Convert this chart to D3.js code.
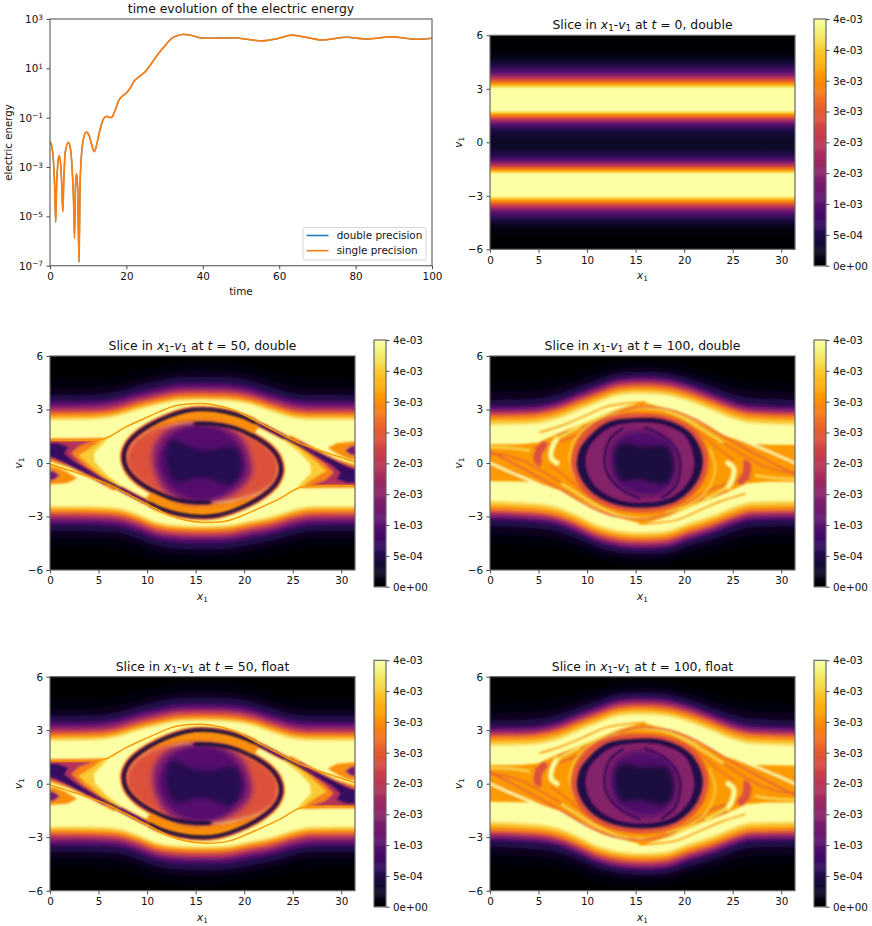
<!DOCTYPE html>
<html lang="en">
<head>
<meta charset="UTF-8">
<title>Electric energy and phase space slices</title>
<script src="https://d3js.org/d3.v7.min.js"></script>
<style>
body { margin: 0; background: #fff; }
text { font-family: "DejaVu Sans", sans-serif; fill: #111; }
.domain { stroke: none; }
.tick line { stroke: #333; stroke-width: 0.9; }
.tick text { font-size: 10.4px; font-family: "DejaVu Sans", sans-serif; fill: #111; }
</style>
</head>
<body>
<svg id="chart" width="872" height="926"></svg>
<script>
// ---- time evolution
const timeValues = [0,.5,1,1.25,1.48,1.7,2,2.4,2.8,3.1,3.35,3.6,4,4.8,5.4,5.9,6.2,6.42,6.65,6.95,7.25,7.6,7.85,8.2,8.7,9.5,10.3,11,11.6,12.2,13,14,14.8,16,17,18,19,20,21,22,23.6,25.3,27,28.8,30.6,31.9,33.2,34.9,36.7,39.3,41.9,48,51.5,55.5,59.4,63.3,66.4,71.2,77.7,83,89.5,96,100];
const energyDouble = [1.07e-2,6.6e-3,1e-3,1.26e-4,5.8e-6,1.26e-4,1.1e-3,2.9e-3,1.26e-3,1.6e-4,1.55e-5,2.5e-4,4e-3,1e-2,5e-3,4e-4,3.2e-5,1.3e-6,1.26e-4,5.4e-4,1.26e-4,1.4e-7,1.26e-4,2.5e-3,1.26e-2,2.6e-2,1.8e-2,7.1e-3,4.2e-3,7.9e-3,2.8e-2,8.9e-2,.112,.1,.19,.5,.76,1,1.6,3,4.9,8.5,20,48,102,166,209,240,224,174,166,174,151,129,158,224,190,141,182,155,190,151,166];
// the single precision line sits exactly on the double one in the picture
const energySingle = [1.07e-2,6.6e-3,1e-3,1.26e-4,5.8e-6,1.26e-4,1.1e-3,2.9e-3,1.26e-3,1.6e-4,1.55e-5,2.5e-4,4e-3,1e-2,5e-3,4e-4,3.2e-5,1.3e-6,1.26e-4,5.4e-4,1.26e-4,1.4e-7,1.26e-4,2.5e-3,1.26e-2,2.6e-2,1.8e-2,7.1e-3,4.2e-3,7.9e-3,2.8e-2,8.9e-2,.112,.1,.19,.5,.76,1,1.6,3,4.9,8.5,20,48,102,166,209,240,224,174,166,174,151,129,158,224,190,141,182,155,190,151,166];
const energyTicks = [1e-7,1e-5,1e-3,1e-1,1e1,1e3];
const energyTickExp = ["\u22127","\u22125","\u22123","\u22121","1","3"];
const timeTicks = [0,20,40,60,80,100];
const legendLabels = ["double precision","single precision"];

// ---- colour bar, values in units of 1e-3
const colorTicks = [0,.5,1,1.5,2,2.5,3,3.5,4];
const colorTickLabels = ["0e+00","5e-04","1e-03","2e-03","2e-03","3e-03","3e-03","4e-03","4e-03"];
const x1Ticks = [0,5,10,15,20,25,30];
const v1Ticks = [-6,-3,0,3,6];

// ---- t=0 slice, does not depend on x1
const v1Stops0 = [-6,-5.4,-5,-4.7,-4.3,-3.95,-3.75,-3.6,-3.45,-3.3,-3.15,-3,-1.8,-1.65,-1.55,-1.4,-1.3,-1.15,-1,-.7,-.35,0,.35,.7,1,1.15,1.3,1.4,1.55,1.65,1.8,3,3.15,3.3,3.45,3.6,3.75,3.95,4.3,4.7,5,5.4,6];
const fStops0 = [0,.02,.08,.2,.5,1,1.5,2,2.5,3,3.5,4,4,3.5,3,2.5,2,1.5,1,.5,.32,.28,.32,.5,1,1.5,2,2.5,3,3.5,4,4,3.5,3,2.5,2,1.5,1,.5,.2,.08,.02,0];

// ---- contours of the outer bands, v1 at each x1 column, one row per level
const bandX = [-1,4,7,9,11,13.5,15.7,18,20.5,23,25,27,32.4];
const bandLevels = [.05,.2,.5,1,1.5,2,2.5,3,3.5,4];
const upper50 = [
  [4.75,4.77,4.94,5.23,5.46,5.67,5.7,5.67,5.51,5.13,4.85,4.76,4.75],
  [4.2,4.22,4.4,4.7,4.95,5.17,5.2,5.17,5,4.6,4.3,4.21,4.2],
  [3.8,3.82,4.01,4.32,4.58,4.81,4.84,4.81,4.63,4.22,3.9,3.81,3.8],
  [3.44,3.46,3.65,3.96,4.21,4.44,4.47,4.44,4.26,3.85,3.54,3.45,3.44],
  [3.22,3.24,3.43,3.74,3.99,4.22,4.25,4.22,4.04,3.63,3.32,3.23,3.22],
  [3.03,3.05,3.24,3.57,3.83,4.07,4.1,4.07,3.89,3.46,3.14,3.04,3.03],
  [2.88,2.9,3.09,3.42,3.68,3.92,3.95,3.92,3.74,3.31,2.99,2.89,2.88],
  [2.75,2.77,2.96,3.28,3.54,3.77,3.8,3.77,3.59,3.17,2.86,2.76,2.75],
  [2.58,2.6,2.79,3.12,3.38,3.62,3.65,3.62,3.44,3.01,2.69,2.59,2.58],
  [2.41,2.43,2.63,2.97,3.25,3.5,3.53,3.5,3.31,2.86,2.52,2.42,2.41]
];
const lower50 = [
  [-4.75,-4.76,-4.85,-5.13,-5.51,-5.67,-5.7,-5.67,-5.46,-5.23,-4.94,-4.77,-4.75],
  [-4.2,-4.21,-4.3,-4.6,-5,-5.17,-5.2,-5.17,-4.95,-4.7,-4.4,-4.22,-4.2],
  [-3.8,-3.81,-3.9,-4.22,-4.63,-4.81,-4.84,-4.81,-4.58,-4.32,-4.01,-3.82,-3.8],
  [-3.44,-3.45,-3.54,-3.85,-4.26,-4.44,-4.47,-4.44,-4.21,-3.96,-3.65,-3.46,-3.44],
  [-3.22,-3.23,-3.32,-3.63,-4.04,-4.22,-4.25,-4.22,-3.99,-3.74,-3.43,-3.24,-3.22],
  [-3.03,-3.04,-3.14,-3.46,-3.89,-4.07,-4.1,-4.07,-3.83,-3.57,-3.24,-3.05,-3.03],
  [-2.88,-2.89,-2.99,-3.31,-3.74,-3.92,-3.95,-3.92,-3.68,-3.42,-3.09,-2.9,-2.88],
  [-2.75,-2.76,-2.86,-3.17,-3.59,-3.77,-3.8,-3.77,-3.54,-3.28,-2.96,-2.77,-2.75],
  [-2.58,-2.59,-2.69,-3.01,-3.44,-3.62,-3.65,-3.62,-3.38,-3.12,-2.79,-2.6,-2.58],
  [-2.41,-2.42,-2.52,-2.86,-3.31,-3.5,-3.53,-3.5,-3.25,-2.97,-2.63,-2.43,-2.41]
];
const upper100 = [
  [4.56,4.6,4.8,5.11,5.41,5.73,5.78,5.72,5.48,5.11,4.8,4.63,4.56],
  [4,4.04,4.28,4.63,4.98,5.34,5.4,5.33,5.05,4.63,4.28,4.08,4],
  [3.53,3.58,3.85,4.25,4.64,5.06,5.12,5.04,4.72,4.25,3.85,3.63,3.53],
  [3.16,3.21,3.5,3.92,4.34,4.77,4.84,4.76,4.42,3.92,3.5,3.26,3.16],
  [3,3.05,3.34,3.77,4.19,4.63,4.7,4.62,4.28,3.77,3.34,3.1,3],
  [2.84,2.89,3.18,3.61,4.04,4.49,4.56,4.47,4.13,3.61,3.18,2.94,2.84],
  [2.72,2.77,3.06,3.49,3.91,4.35,4.42,4.34,4,3.49,3.06,2.82,2.72],
  [2.6,2.65,2.94,3.36,3.78,4.21,4.28,4.2,3.86,3.36,2.94,2.7,2.6],
  [2.38,2.43,2.72,3.15,3.58,4.03,4.1,4.01,3.67,3.15,2.72,2.48,2.38],
  [2.13,2.18,2.48,2.93,3.37,3.83,3.9,3.81,3.46,2.93,2.48,2.24,2.13]
];
const lower100 = [
  [-4.56,-4.63,-4.8,-5.11,-5.48,-5.72,-5.78,-5.73,-5.41,-5.11,-4.8,-4.6,-4.56],
  [-4,-4.08,-4.28,-4.63,-5.05,-5.33,-5.4,-5.34,-4.98,-4.63,-4.28,-4.04,-4],
  [-3.53,-3.63,-3.85,-4.25,-4.72,-5.04,-5.12,-5.06,-4.64,-4.25,-3.85,-3.58,-3.53],
  [-3.16,-3.26,-3.5,-3.92,-4.42,-4.76,-4.84,-4.77,-4.34,-3.92,-3.5,-3.21,-3.16],
  [-3,-3.1,-3.34,-3.77,-4.28,-4.62,-4.7,-4.63,-4.19,-3.77,-3.34,-3.05,-3],
  [-2.84,-2.94,-3.18,-3.61,-4.13,-4.47,-4.56,-4.49,-4.04,-3.61,-3.18,-2.89,-2.84],
  [-2.72,-2.82,-3.06,-3.49,-4,-4.34,-4.42,-4.35,-3.91,-3.49,-3.06,-2.77,-2.72],
  [-2.6,-2.7,-2.94,-3.36,-3.86,-4.2,-4.28,-4.21,-3.78,-3.36,-2.94,-2.65,-2.6],
  [-2.38,-2.48,-2.72,-3.15,-3.67,-4.01,-4.1,-4.03,-3.58,-3.15,-2.72,-2.43,-2.38],
  [-2.13,-2.24,-2.48,-2.93,-3.46,-3.81,-3.9,-3.83,-3.37,-2.93,-2.48,-2.18,-2.13]
];

// ---- t=50 inner structure as [x1, v1] contours and ridge lines
const pocketLeft50 = [[-1,-.15],[.5,-.2],[1.6,-.45],[2.8,-.85],[1.8,-1.12],[0,-1.2],[-1,-1.2]];
const pocketLeftCore50 = [[-1,-.4],[.4,-.45],[1,-.7],[.4,-.95],[-1,-1]];
const pocketRight50 = [[32.4,.15],[30.9,.2],[29.8,.45],[28.6,.85],[29.6,1.12],[31.4,1.2],[32.4,1.2]];
const pocketRightCore50 = [[32.4,.4],[31,.45],[30.4,.7],[31,.95],[32.4,1]];
const wedgeLeftD50 = [[-1,1.38],[3,1.38],[6,1.42],[5.4,1.05],[4.5,.55],[4.6,.05],[5.8,-.65],[7.4,-1.3],[7,-1.5],[4,-.8],[2,-.25],[-1,.2]];
const wedgeLeftA50 = [[-1,1.38],[3,1.38],[5.5,1.42],[4.6,1],[3.5,.62],[2.9,.45],[3.8,0],[5.2,-.65],[7,-1.35],[6.6,-1.55],[4,-.8],[2,-.25],[0,.12],[-1,.2]];
const wedgeLeftB50 = [[-1,1.25],[3,1.25],[4.5,1.25],[3,.95],[2.2,.55],[3,.1],[4.5,-.55],[6,-1.2],[5.5,-1.2],[3.5,-.55],[1.5,-.05],[0,.25],[-1,.3]];
const wedgeLeftC50 = [[-1,1.12],[.8,1.12],[1.9,.9],[1.5,.55],[2.4,.1],[4.2,-.6],[3.9,-.65],[2,-.12],[.5,.3],[-1,.4]];
const wedgeRightD50 = [[32.4,-1.38],[28.4,-1.38],[25.4,-1.42],[26,-1.05],[26.9,-.55],[26.8,-.05],[25.6,.65],[24,1.3],[24.4,1.5],[27.4,.8],[29.4,.25],[32.4,-.2]];
const wedgeRightA50 = [[32.4,-1.38],[28.4,-1.38],[25.9,-1.42],[26.8,-1],[27.9,-.62],[28.5,-.45],[27.6,0],[26.2,.65],[24.4,1.35],[24.8,1.55],[27.4,.8],[29.4,.25],[31.4,-.12],[32.4,-.2]];
const wedgeRightB50 = [[32.4,-1.25],[28.4,-1.25],[26.9,-1.25],[28.4,-.95],[29.2,-.55],[28.4,-.1],[26.9,.55],[25.4,1.2],[25.9,1.2],[27.9,.55],[29.9,.05],[31.4,-.25],[32.4,-.3]];
const wedgeRightC50 = [[32.4,-1.12],[30.6,-1.12],[29.5,-.9],[29.9,-.55],[29,-.1],[27.2,.6],[27.5,.65],[29.4,.12],[30.9,-.3],[32.4,-.4]];
const armATail50 = [[32.4,-.55],[31.2,-.5],[29.9,-.2],[27.8,.36],[25.75,1],[23.7,1.57],[22,2.05],[21,2.3]];
const armARing50 = [[21,2.3],[20,2.55],[18,2.87],[15.7,3],[14.1,2.92],[12.2,2.6],[10.1,2.05],[8.8,1.55],[8,1.05],[7.6,.4],[7.9,-.3],[8.9,-.95],[10.8,-1.6],[12.6,-2],[14.9,-2.2],[16.4,-2.2]];
const armBTail50 = [[-1,.55],[.2,.5],[1.5,.2],[3.5,-.36],[5.65,-1],[7.7,-1.57],[9.4,-2.05],[10.4,-2.3]];
const armBRing50 = [[10.4,-2.3],[11.4,-2.55],[13.4,-2.87],[15.7,-3],[17.3,-2.92],[19.2,-2.6],[21.3,-2.05],[22.6,-1.55],[23.4,-1.05],[23.8,-.4],[23.5,.3],[22.5,.95],[20.6,1.6],[18.8,2],[16.5,2.2],[15,2.2]];
const filamentA50 = [[-1,1.3],[3,1.27],[5.5,1.35],[6.2,1.5],[7.55,1.94],[9.6,2.47],[11.3,2.88],[13,3.22],[15.7,3.33],[17.5,3.2],[19,2.95],[20.5,2.55],[22.3,2.04],[25.75,1.1],[29.2,.45],[32.4,-.1]];
const filamentB50 = [[32.4,-1.3],[28.4,-1.27],[25.9,-1.35],[25.2,-1.5],[23.85,-1.94],[21.8,-2.47],[20.1,-2.88],[18.4,-3.22],[15.7,-3.33],[13.9,-3.2],[12.4,-2.95],[10.9,-2.55],[9.1,-2.04],[5.65,-1.1],[2.2,-.45],[-1,.1]];
const crescentTop50 = [[10,1.8],[12.2,2.6],[15.7,3],[18,2.87],[20,2.55],[21.5,2.15],[20.8,1.6],[18.8,2.05],[15.7,2.25],[13,2.2]];
const crescentBottom50 = [[21.4,-1.8],[19.2,-2.6],[15.7,-3],[13.4,-2.87],[11.4,-2.55],[9.9,-2.15],[10.6,-1.6],[12.6,-2.05],[15.7,-2.25],[18.4,-2.2]];
const eyeInner50 = [[7.8,.4],[8.2,1],[9.2,1.55],[10.8,2],[13,2.25],[15.7,2.3],[18.8,2],[20.6,1.6],[22.5,.95],[23.5,.3],[23.6,-.4],[23.3,-1.05],[22,-1.6],[20,-2],[18,-2.2],[15,-2.3],[12.6,-2],[10.8,-1.6],[8.9,-.95],[7.9,-.3]];
const centerA50 = [[10.6,.9],[11.8,1.8],[13.7,2.2],[15.7,2.3],[18.5,2],[20,1.3],[20.7,.4],[20.9,-.5],[20.2,-1.2],[18.5,-1.9],[15.7,-2.3],[13,-2.1],[11.5,-1.4],[10.6,-.3]];
const centerB50 = [[11.2,.5],[12.2,1.5],[13.8,2],[15.7,2.15],[17.7,1.9],[19.3,1.2],[20.1,.3],[20.2,-.5],[19.3,-1.2],[17.6,-1.9],[15.7,-2.15],[13.6,-1.9],[12,-1.2],[11.2,-.3]];
const centerC50 = [[11.9,.6],[12.5,1.35],[13.4,1.2],[14.8,.85],[16.5,.75],[18.2,.95],[19.4,.8],[19.8,-.1],[19.3,-1.05],[18.2,-1.3],[16.9,-1],[15.2,-.85],[13.4,-1.1],[12.6,-.95],[12,-.2]];

// ---- t=100 inner structure
const lens100 = [[-1,1.05],[3,1.05],[5,1.15],[6,1.4],[7.9,1.85],[10.3,2.4],[13,3],[15.7,3.42],[18.9,2.95],[22.3,2.04],[24,1.55],[25.5,1.3],[27,1.05],[32.4,1],[32.4,-1.05],[28.4,-1.05],[26.4,-1.15],[25.4,-1.4],[23.5,-1.85],[21.1,-2.4],[18.4,-3],[15.7,-3.42],[12.5,-2.95],[9.1,-2.04],[7.4,-1.55],[5.9,-1.3],[4.4,-1.05],[-1,-1]];
const tipTop100 = [[5.15,1.72],[7.55,2.13],[9.6,2.6],[12,3.16],[14,3.35],[16,3.42]];
const tipBottom100 = [[26.25,-1.72],[23.85,-2.13],[21.8,-2.6],[19.4,-3.16],[17.4,-3.35],[15.4,-3.42]];
const diagRight100 = [[25.7,1.35],[26.6,1.14],[29.4,.49],[31.4,0],[32.4,-.25]];
const diagLeft100 = [[-1,.25],[0,0],[2,-.49],[4.8,-1.14],[6,-1.45]];
const paleTop100 = [[7.5,1.6],[9.5,2.15],[11.5,2.6],[13.5,2.95],[15.7,3.1],[18,2.95],[20,2.5],[22,1.85],[24,1.15]];
const paleBottom100 = [[23.9,-1.6],[21.9,-2.15],[19.9,-2.6],[17.9,-2.95],[15.7,-3.1],[13.4,-2.95],[11.4,-2.5],[9.4,-1.85],[7.4,-1.15]];
const strandTop100 = [[6.9,1.57],[9.6,2.04],[13,2.65],[15.45,2.73],[18.9,2.41],[21.3,1.76],[23.7,.73],[25.1,.17]];
const strandBottom100 = [[24.5,-1.57],[21.8,-2.04],[18.4,-2.65],[15.4,-2.73],[12.5,-2.41],[10.1,-1.76],[7.7,-.73],[6.3,-.17]];
const redLower100 = [[-1,.9],[0,.64],[4.1,-.52],[7.2,-1.46],[10.3,-2.45],[13,-3],[16,-3.14],[18.9,-2.73],[22.3,-1.6],[24,-1.23],[26.8,-.86]];
const redUpper100 = [[32.4,-.9],[31.4,-.64],[27.3,.52],[24.2,1.46],[21.1,2.45],[18.4,3],[15.4,3.14],[12.5,2.73],[9.1,1.6],[7.4,1.23],[4.6,.86]];
const redPatchLeft100 = [[4.5,.1],[4.7,.8],[5.6,1.25],[5.9,1],[5.4,.5],[5.2,-.2]];
const redPatchRight100 = [[26.9,-.1],[26.7,-.8],[25.8,-1.25],[25.5,-1],[26,-.5],[26.2,.2]];
const tongueLeft100 = [[6.9,0],[6.3,.3],[6.5,1],[6.9,1.35]];
const tongueLeftTail100 = [[6.9,1.35],[7.9,1.66],[9.2,2]];
const tongueRight100 = [[24.5,0],[25.1,-.3],[24.9,-1],[24.5,-1.35]];
const tongueRightTail100 = [[24.5,-1.35],[23.5,-1.66],[22.2,-2]];
const ringPaleLeft100 = [[8.8,-.8],[8.2,.2],[8.5,1],[9.3,1.7],[11,2.35],[13.2,2.75]];
const ringPaleRight100 = [[22.6,.8],[23.2,-.2],[22.9,-1],[22.1,-1.7],[20.4,-2.35],[18.2,-2.75]];
const streakA100 = [[-1,.55],[1.5,.45],[3.5,.1],[5.5,-.5],[7.3,-1.1]];
const streakB100 = [[32.4,-.55],[29.9,-.45],[27.9,-.1],[25.9,.5],[24.1,1.1]];
const streakC100 = [[-1,.9],[2,.85],[4,.7]];
const streakD100 = [[32.4,-.9],[29.4,-.85],[27.4,-.7]];
const ringBase100 = [[8.4,-.3],[8.6,.75],[9.3,1.5],[11.6,2.5],[15.1,2.78],[18.5,2.6],[21.2,1.8],[22.5,.3],[21.9,-1.1],[19.6,-2.3],[16.1,-2.75],[12.4,-2.5],[9.8,-1.7]];
const ringDark100 = [[9,-.3],[9.2,.7],[9.9,1.3],[12,2.25],[15.1,2.52],[18.2,2.4],[20.7,1.65],[21.9,.3],[21.4,-.95],[19.3,-2.1],[16.1,-2.5],[12.7,-2.28],[10.2,-1.5]];
const ringInner100 = [[9.9,-.2],[10,.6],[10.7,1.25],[12.4,1.98],[15.2,2.27],[18,2.12],[20.1,1.5],[21,.2],[20.7,-.8],[18.9,-1.85],[16,-2.22],[13,-2.02],[10.8,-1.25]];
const innerArcLeft100 = [[13.7,1.94],[12.4,1.38],[11.84,.45],[12,-.49],[13.4,-1.42],[15.4,-1.98]];
const innerArcRight100 = [[17.7,-1.94],[19,-1.38],[19.56,-.45],[19.4,.49],[18,1.42],[16,1.98]];
const center100 = [[12.3,.2],[12.8,1.2],[14.5,1.75],[16.5,1.75],[18.6,1.2],[19.2,.2],[19,-1],[17.3,-1.75],[15,-1.75],[13,-1.1]];
const centerCore100 = [[12.8,.3],[13.2,1],[14,1.15],[15.5,.95],[17,1],[18.3,.9],[18.9,.2],[18.8,-.7],[18,-1.2],[16.5,-1.1],[15.2,-.95],[14,-1.05],[13.2,-.8]];

// layout, pixel boxes of the axes
const energyBox = {left: 50, right: 432, top: 19, bottom: 265.7};
const slices = [
  {left: 490, top: 35.3, bottom: 249.3, cbLeft: 814, cbTop: 19, cbBottom: 265.7, t: "0", kind: "double", draw: drawSlice0, titleY: 29},
  {left: 50, top: 356, bottom: 570, cbLeft: 374, cbTop: 340, cbBottom: 586.7, t: "50", kind: "double", draw: drawSlice50, titleY: 350},
  {left: 490, top: 356, bottom: 570, cbLeft: 814, cbTop: 340, cbBottom: 586.7, t: "100", kind: "double", draw: drawSlice100, titleY: 350},
  // float and double slices cannot be told apart at this size
  {left: 50, top: 676.7, bottom: 890.7, cbLeft: 374, cbTop: 660.3, cbBottom: 906.7, t: "50", kind: "float", draw: drawSlice50, titleY: 670.5},
  {left: 490, top: 676.7, bottom: 890.7, cbLeft: 814, cbTop: 660.3, cbBottom: 906.7, t: "100", kind: "float", draw: drawSlice100, titleY: 670.5}
];
const sliceWidth = 305, cbWidth = 12, spine = "#666";

const color = d3.scaleSequential(d3.interpolateInferno).domain([0, 4]);
const svg = d3.select("#chart");
const defs = svg.append("defs");

[["wide", 2.4], ["soft", 1.5], ["mid", 0.95], ["fine", 0.55]].forEach(([id, dev]) => {
  defs.append("filter").attr("id", id).attr("filterUnits", "userSpaceOnUse")
    .attr("x", 0).attr("y", 0).attr("width", 872).attr("height", 926)
    .append("feGaussianBlur").attr("stdDeviation", dev);
});

function clipTo(id, box, width) {
  defs.append("clipPath").attr("id", id).append("rect")
    .attr("x", box.left).attr("y", box.top)
    .attr("width", width).attr("height", box.bottom - box.top);
  return svg.append("g").attr("clip-path", `url(#${id})`);
}

function frame(box, width) {
  svg.append("rect").attr("x", box.left).attr("y", box.top)
    .attr("width", width).attr("height", box.bottom - box.top)
    .attr("fill", "none").attr("stroke", spine).attr("stroke-width", 1.2);
}

// ---- energy panel
const xTime = d3.scaleLinear().domain([0, 100]).range([energyBox.left, energyBox.right]);
const yEnergy = d3.scaleLog().domain([1e-7, 1e3]).range([energyBox.bottom, energyBox.top]);
const energyLine = d3.line().x((d, i) => xTime(timeValues[i])).y(d => yEnergy(d)).curve(d3.curveMonotoneX);

const energyLines = clipTo("clip-energy", energyBox, energyBox.right - energyBox.left);
energyLines.append("path").attr("d", energyLine(energyDouble)).attr("fill", "none").attr("stroke", "#1f77b4").attr("stroke-width", 1.3);
energyLines.append("path").attr("d", energyLine(energySingle)).attr("fill", "none").attr("stroke", "#ff7f0e").attr("stroke-width", 1.7);

svg.append("g").attr("transform", `translate(0,${energyBox.bottom})`)
  .call(d3.axisBottom(xTime).tickValues(timeTicks).tickSize(3.5).tickPadding(3.5));
const energyAxis = svg.append("g").attr("transform", `translate(${energyBox.left},0)`)
  .call(d3.axisLeft(yEnergy).tickValues(energyTicks).tickSize(3.5).tickPadding(3.5).tickFormat(() => ""));
energyAxis.selectAll(".tick text").each(function(d, i) {
  const t = d3.select(this);
  t.append("tspan").text("10");
  t.append("tspan").attr("dy", "-0.45em").attr("font-size", "7.3px").text(energyTickExp[i]);
});
frame(energyBox, energyBox.right - energyBox.left);

svg.append("text").attr("x", 241).attr("y", 13).attr("text-anchor", "middle").attr("font-size", 12.4)
  .text("time evolution of the electric energy");
svg.append("text").attr("x", 241).attr("y", 295).attr("text-anchor", "middle").attr("font-size", 10.4).text("time");
svg.append("text").attr("transform", "translate(11.5,142.5) rotate(-90)").attr("text-anchor", "middle").attr("font-size", 10.2).text("electric energy");

const legend = svg.append("g");
legend.append("rect").attr("x", 303).attr("y", 227.5).attr("width", 123).attr("height", 32.5).attr("rx", 2)
  .attr("fill", "#fff").attr("fill-opacity", 0.85).attr("stroke", "#ccc").attr("stroke-width", 0.8);
legendLabels.forEach((label, i) => {
  const yy = 235.5 + i * 15.2;
  legend.append("line").attr("x1", 306.7).attr("x2", 328.5).attr("y1", yy).attr("y2", yy)
    .attr("stroke", i ? "#ff7f0e" : "#1f77b4").attr("stroke-width", 1.6);
  legend.append("text").attr("x", 336.7).attr("y", yy + 3.6).attr("font-size", 10.4).text(label);
});

// ---- slices
function drawSlice0(g, x, y, box) {
  const grad = defs.append("linearGradient").attr("id", "grad0")
    .attr("gradientUnits", "userSpaceOnUse")
    .attr("x1", 0).attr("x2", 0).attr("y1", y(-6)).attr("y2", y(6));
  // stops run from the bottom of the axes upwards
  v1Stops0.forEach((v, i) => {
    grad.append("stop").attr("offset", (y(-6) - y(v)) / (y(-6) - y(6))).attr("stop-color", color(fStops0[i]));
  });
  g.append("rect").attr("x", box.left).attr("y", box.top).attr("width", sliceWidth)
    .attr("height", box.bottom - box.top).attr("fill", "url(#grad0)");
}

function painter(parent, x, y, blur) {
  const g = parent.append("g").attr("filter", `url(#${blur})`);
  const closed = d3.line().x(d => x(d[0])).y(d => y(d[1])).curve(d3.curveCatmullRomClosed.alpha(0.5));
  const polygon = d3.line().x(d => x(d[0])).y(d => y(d[1])).curve(d3.curveLinearClosed);
  const open = d3.line().x(d => x(d[0])).y(d => y(d[1])).curve(d3.curveCatmullRom.alpha(0.5));
  return {
    fill: (pts, level) => g.append("path").attr("d", closed(pts)).attr("fill", color(level)),
    poly: (pts, level) => g.append("path").attr("d", polygon(pts)).attr("fill", color(level)),
    ridge: (pts, level, width) => g.append("path").attr("d", open(pts)).attr("fill", "none")
      .attr("stroke", color(level)).attr("stroke-width", width).attr("stroke-linecap", "round")
  };
}

function outerBands(g, x, y, box, upper, lower) {
  const soft = g.append("g").attr("filter", "url(#soft)");
  soft.append("rect").attr("x", box.left - 20).attr("y", box.top - 20).attr("width", sliceWidth + 40)
    .attr("height", box.bottom - box.top + 40).attr("fill", color(0));
  const area = d3.area().x((d, i) => x(bandX[i])).y1(d => y(d[0])).y0(d => y(d[1])).curve(d3.curveMonotoneX);
  bandLevels.forEach((level, i) => {
    soft.append("path").attr("d", area(d3.zip(upper[i], lower[i]))).attr("fill", color(level));
  });
}

function drawSlice50(g, x, y, box) {
  outerBands(g, x, y, box, upper50, lower50);

  const under = painter(g, x, y, "mid");
  under.poly(pocketLeft50, 3); under.poly(pocketLeftCore50, 1.3);
  under.poly(pocketRight50, 3); under.poly(pocketRightCore50, 1.3);
  [armATail50, armBTail50].forEach(arm => { under.ridge(arm, 3, 6); under.ridge(arm, 1.8, 4); });
  [armARing50, armBRing50].forEach(arm => { under.ridge(arm, 3.1, 8); under.ridge(arm, 2, 5.6); });
  under.fill(crescentTop50, 3); under.fill(crescentBottom50, 3);
  under.poly(wedgeLeftD50, 3.5); under.poly(wedgeLeftA50, 2.9); under.poly(wedgeLeftB50, 1.9); under.poly(wedgeLeftC50, .7);
  under.poly(wedgeRightD50, 3.5); under.poly(wedgeRightA50, 2.9); under.poly(wedgeRightB50, 1.9); under.poly(wedgeRightC50, .7);

  const eye = painter(g, x, y, "wide");
  eye.fill(eyeInner50, 2.4);
  eye.fill(centerA50, 1.5);
  eye.fill(centerB50, 1);
  eye.fill(centerC50, .55);

  const arms = painter(g, x, y, "mid");
  [armATail50, armBTail50].forEach(arm => arms.ridge(arm, .7, 2.4));
  [armARing50, armBRing50].forEach(arm => arms.ridge(arm, .4, 3.2));

  const lines = painter(g, x, y, "fine");
  [filamentA50, filamentB50].forEach(f => lines.ridge(f, 3.1, 1.5));
}

function drawSlice100(g, x, y, box) {
  outerBands(g, x, y, box, upper100, lower100);

  const base = painter(g, x, y, "mid");
  base.poly(lens100, 3.1);
  [diagLeft100, diagRight100].forEach(d => base.ridge(d, 4, 2.4));
  [tipTop100, tipBottom100].forEach(d => base.ridge(d, 3, 1.5));
  [paleTop100, paleBottom100].forEach(d => base.ridge(d, 3.7, 1.8));
  [strandTop100, strandBottom100].forEach(d => base.ridge(d, 2.7, 1.7));
  [streakC100, streakD100].forEach(d => base.ridge(d, 3.6, 2.4));
  [streakA100, streakB100].forEach(d => base.ridge(d, 2.6, 1.7));
  [redLower100, redUpper100].forEach(d => base.ridge(d, 2.5, 1.7));
  base.fill(redPatchLeft100, 2.4); base.fill(redPatchRight100, 2.4);
  [tongueLeft100, tongueRight100].forEach(d => { base.ridge(d, 3.5, 6); base.ridge(d, 4, 3.8); });
  [tongueLeftTail100, tongueRightTail100].forEach(d => base.ridge(d, 3.7, 2.2));
  [ringPaleLeft100, ringPaleRight100].forEach(d => base.ridge(d, 3.5, 2));

  const halo = painter(g, x, y, "soft");
  halo.fill(ringBase100, 2.4);

  const ring = painter(g, x, y, "mid");
  ring.fill(ringDark100, .5);
  ring.fill(ringInner100, 1.45);
  [innerArcLeft100, innerArcRight100].forEach(d => ring.ridge(d, .6, 2.6));

  const center = painter(g, x, y, "wide");
  center.fill(center100, .95);
  center.fill(centerCore100, .45);
}

slices.forEach((s, i) => {
  const box = {left: s.left, right: s.left + sliceWidth, top: s.top, bottom: s.bottom};
  const x = d3.scaleLinear().domain([0, 31.416]).range([box.left, box.right]);
  const y = d3.scaleLinear().domain([-6, 6]).range([box.bottom, box.top]);

  s.draw(clipTo("clip-slice-" + i, box, sliceWidth), x, y, box);

  svg.append("g").attr("transform", `translate(0,${box.bottom})`)
    .call(d3.axisBottom(x).tickValues(x1Ticks).tickSize(3.5).tickPadding(3.5));
  svg.append("g").attr("transform", `translate(${box.left},0)`)
    .call(d3.axisLeft(y).tickValues(v1Ticks).tickSize(3.5).tickPadding(3.5));
  frame(box, sliceWidth);

  // title with math parts
  const title = svg.append("text").attr("x", box.left + sliceWidth / 2).attr("y", s.titleY)
    .attr("text-anchor", "middle").attr("font-size", 12.4);
  title.append("tspan").text("Slice in ");
  title.append("tspan").attr("font-style", "italic").text("x");
  title.append("tspan").attr("font-size", "8.7px").attr("dy", 2).text("1");
  title.append("tspan").attr("dy", -2).text("-");
  title.append("tspan").attr("font-style", "italic").text("v");
  title.append("tspan").attr("font-size", "8.7px").attr("dy", 2).text("1");
  title.append("tspan").attr("dy", -2).text(" at ");
  title.append("tspan").attr("font-style", "italic").text("t");
  title.append("tspan").text(` = ${s.t}, ${s.kind}`);

  const xl = svg.append("text").attr("x", box.left + sliceWidth / 2).attr("y", box.bottom + 30)
    .attr("text-anchor", "middle").attr("font-size", 10.4);
  xl.append("tspan").attr("font-style", "italic").text("x");
  xl.append("tspan").attr("font-size", "7.3px").attr("dy", 2).text("1");

  const yl = svg.append("text")
    .attr("transform", `translate(${box.left - 28},${(box.top + box.bottom) / 2}) rotate(-90)`)
    .attr("text-anchor", "middle").attr("font-size", 10.4);
  yl.append("tspan").attr("font-style", "italic").text("v");
  yl.append("tspan").attr("font-size", "7.3px").attr("dy", 2).text("1");

  // colour bar
  const cb = d3.scaleLinear().domain([0, 4]).range([s.cbBottom, s.cbTop]);
  const cbStep = (s.cbBottom - s.cbTop) / 256;
  svg.append("g").selectAll("rect").data(d3.range(256)).join("rect")
    .attr("x", s.cbLeft).attr("width", cbWidth)
    .attr("y", d => cb((d + 1) / 64)).attr("height", cbStep + 0.5)
    .attr("fill", d => color((d + 0.5) / 64));
  svg.append("g").attr("transform", `translate(${s.cbLeft + cbWidth},0)`)
    .call(d3.axisRight(cb).tickValues(colorTicks).tickSize(3.5).tickPadding(3.5)
      .tickFormat((d, k) => colorTickLabels[k]));
  svg.append("rect").attr("x", s.cbLeft).attr("y", s.cbTop).attr("width", cbWidth)
    .attr("height", s.cbBottom - s.cbTop).attr("fill", "none").attr("stroke", spine).attr("stroke-width", 1.2);
});
</script>
</body>
</html>
